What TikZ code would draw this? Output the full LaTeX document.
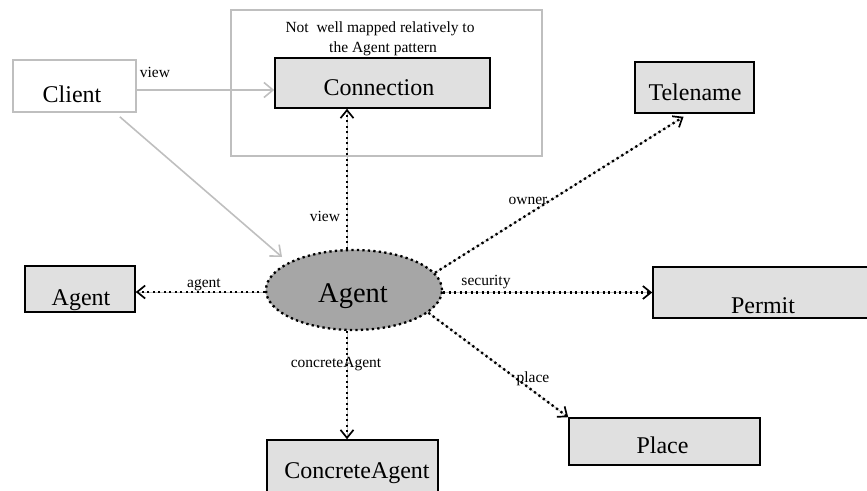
\documentclass[tikz,border=0pt]{standalone}
\usepackage{fontspec}
\setmainfont{Liberation Serif}
\usetikzlibrary{arrows.meta,shapes.geometric,calc}
\definecolor{boxfill}{HTML}{E0E0E0}
\definecolor{ellfill}{HTML}{A6A6A6}
\definecolor{lightline}{HTML}{BFBFBF}
\begin{document}
\begin{tikzpicture}[x=1pt,y=-1pt,
  box/.style={draw=black, line width=1.6pt, fill=boxfill, rectangle, inner sep=0pt},
  lbl/.style={font=\fontsize{24}{26}\selectfont, anchor=base, inner sep=0pt},
  small/.style={font=\fontsize{15.5}{17}\selectfont, anchor=base, inner sep=0pt},
  conn/.style={draw=black, line width=2.3pt, dash pattern=on 2.3pt off 3.2pt,
    -{Straight Barb[length=8pt,width=13pt,line width=1.7pt]},
    preaction={draw=lightline, line width=0.7pt, solid, -}},
  grayarrow/.style={draw=lightline, line width=1.6pt,
    -{Straight Barb[length=9pt,width=15pt,line width=1.6pt]}}]
\useasboundingbox (0,0) rectangle (867,490);

% grey region with note
\node[draw=lightline, line width=1.6pt, minimum width=311pt, minimum height=146pt, inner sep=0pt] (region) at (386.5,83) {};
\node[small] (note1) at (380,32) {Not\ \ well mapped relatively to};
\node[small] (note2) at (383,52) {the Agent pattern};

% boxes
\node[box, draw=lightline, fill=white, minimum width=123pt, minimum height=52pt] (client) at (74.5,86) {};
\node[lbl] (clientT) at (72,102) {Client};
\node[box, minimum width=215pt, minimum height=50pt] (conn) at (382.5,83) {};
\node[lbl] (connT) at (379,95) {Connection};
\node[box, minimum width=119pt, minimum height=51pt] (tele) at (694.5,87.5) {};
\node[lbl] (teleT) at (695,100) {Telename};
\node[box, minimum width=110pt, minimum height=46pt] (agentbox) at (80,289) {};
\node[lbl] (agentboxT) at (81,305) {Agent};
\node[box, minimum width=220pt, minimum height=51pt] (permit) at (763,292.5) {};
\node[lbl] (permitT) at (763,313) {Permit};
\node[box, minimum width=191pt, minimum height=47pt] (place) at (664.5,441.5) {};
\node[lbl] (placeT) at (662.5,453) {Place};
\node[box, minimum width=171pt, minimum height=54pt] (concrete) at (352.5,467) {};
\node[lbl] (concreteT) at (357,478) {ConcreteAgent};

% central ellipse
\node[ellipse, fill=ellfill, minimum width=176pt, minimum height=80pt, inner sep=0pt,
  draw=black, line width=2.3pt, dash pattern=on 2.3pt off 3.2pt,
  preaction={draw=lightline, line width=0.7pt, solid}] (ell) at (354,290) {};
\node[font=\fontsize{28.5}{30}\selectfont, anchor=base, inner sep=0pt] (ellT) at (353,302) {Agent};

% grey connectors from Client
\draw[grayarrow] ([yshift=-4pt]client.east) -- ([yshift=-7pt]conn.west);
\draw[grayarrow] ([xshift=-17pt,yshift=-4pt]client.south east) -- ([xshift=-72pt,yshift=33pt]ell.center);

% dotted connectors from Agent
\coordinate (vx) at (347,0);
\draw[conn] (ell.north -| vx) -- (conn.south -| vx);
\draw[conn] (ell.south -| vx) -- (concrete.north -| vx);
\draw[conn] ([yshift=-2pt]ell.west) -- ([yshift=-3pt]agentbox.east);
\draw[conn] ([yshift=-2.5pt]ell.east) -- (permit.west);
\draw[conn] (ell.12) -- ([xshift=-11pt,yshift=-3pt]tele.south);
\draw[conn] (ell.-17) -- (place.north west);

% labels
\node[small] (lview1) at (155,77) {view};
\node[small] (lview2) at (325,221) {view};
\node[small] (lowner) at (528,204) {owner};
\node[small] (lsec) at (486,285) {security};
\node[small] (lagent) at (204,287) {agent};
\node[small] (lconc) at (336,367) {concreteAgent};
\node[small] (lplace) at (533,382) {place};
\end{tikzpicture}
\end{document}
